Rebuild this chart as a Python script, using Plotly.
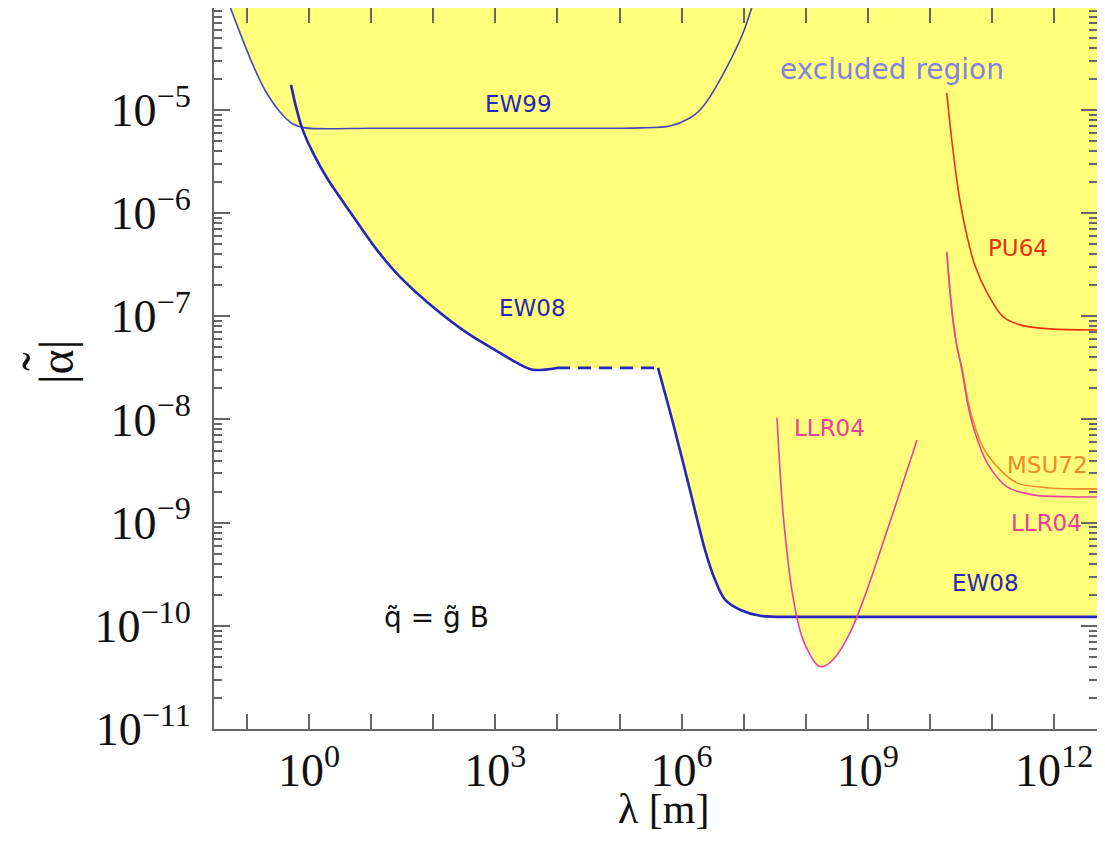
import numpy as np
import plotly.graph_objects as go

# ---------------- data ----------------
# EW99 (thin curve)
ew99_lambda = [0.0535, 0.0775, 0.125, 0.195, 0.341, 0.552, 0.863, 1e1, 1e2, 1e3, 1e4, 1e5,
               2.14e5, 6.50e5, 1.36e6, 1.98e6, 2.86e6, 5.38e6, 9.75e6, 1.36e7]
ew99_alpha = [1.0e-4, 5.57e-5, 2.73e-5, 1.56e-5, 9.57e-6, 7.31e-6, 6.70e-6, 6.65e-6, 6.65e-6, 6.65e-6,
              6.65e-6, 6.65e-6, 6.70e-6, 7.00e-6, 8.36e-6, 1.0e-5, 1.34e-5, 2.61e-5, 5.57e-5, 1.0e-4]

# EW08 (thick curve), short-range part
ew08a_lambda = [0.513, 0.618, 0.771, 1.16, 1.95, 4.57, 12.4, 29.2, 99.3, 350, 1190, 2230, 4050, 9860]
ew08a_alpha = [1.75e-5, 1.07e-5, 6.70e-6, 3.83e-6, 2.19e-6, 1.03e-6, 4.40e-7, 2.41e-7, 1.23e-7,
               6.90e-8, 4.42e-8, 3.53e-8, 3.03e-8, 3.16e-8]
# EW08 dashed bridge
ew08d_lambda = [9860, 4.17e5]
ew08d_alpha = [3.16e-8, 3.16e-8]
# EW08 long-range part
ew08b_lambda = [4.17e5, 7.26e5, 1.36e6, 2.38e6, 3.45e6, 5.0e6, 8.71e6, 1.83e7, 8.07e7, 1e13]
ew08b_alpha = [3.16e-8, 9.27e-9, 2.08e-9, 5.45e-10, 2.79e-10, 1.79e-10, 1.43e-10, 1.25e-10, 1.22e-10, 1.22e-10]

# LLR04 (V-shaped curve)
llrv_lambda = [3.44e7, 4.30e7, 6.22e7, 9.02e7, 1.51e8, 1.82e8, 2.74e8, 5.15e8, 9.68e8, 1.75e9, 3.29e9, 6.18e9]
llrv_alpha = [1.04e-8, 1.24e-9, 1.91e-10, 7.31e-11, 4.19e-11, 4.01e-11, 4.69e-11, 8.55e-11, 2.23e-10,
              6.37e-10, 1.99e-9, 6.34e-9]

# PU64
pu64_lambda = [1.86e10, 2.34e10, 3.02e10, 4.07e10, 5.25e10, 8.32e10, 1.51e11, 2.82e11, 8.51e11, 1e13]
pu64_alpha = [1.46e-5, 4.09e-6, 1.34e-6, 5.50e-7, 3.15e-7, 1.69e-7, 9.86e-8, 8.26e-8, 7.55e-8, 7.38e-8]

# MSU72
msu72_lambda = [1.86e10, 2.09e10, 2.34e10, 2.69e10, 3.31e10, 4.07e10, 4.90e10, 7.08e10, 1.35e11,
                2.51e11, 8.51e11, 1e13]
msu72_alpha = [4.21e-7, 1.80e-7, 9.23e-8, 5.28e-8, 3.03e-8, 1.55e-8, 9.91e-9, 5.42e-9, 3.25e-9,
               2.43e-9, 2.17e-9, 2.13e-9]

# LLR04 (long range)
llr_lambda = [1.86e10, 2.09e10, 2.34e10, 2.69e10, 3.31e10, 4.07e10, 5.25e10, 8.32e10, 1.74e11,
              4.57e11, 1.78e12, 1e13]
llr_alpha = [4.21e-7, 1.80e-7, 9.23e-8, 5.28e-8, 2.89e-8, 1.39e-8, 7.59e-9, 3.80e-9, 2.22e-9,
             1.86e-9, 1.78e-9, 1.78e-9]

# axis ticks
x_tick_exponents = list(range(-1, 13))
x_labelled = [0, 3, 6, 9, 12]
y_tick_exponents = list(range(-11, -4))

# ---------------- excluded-region envelope ----------------
grid = np.linspace(np.log10(ew99_lambda[0]), 12.9, 4000)
env = np.full_like(grid, np.inf)
for lam, al in [(ew99_lambda, ew99_alpha), (ew08a_lambda, ew08a_alpha), (ew08d_lambda, ew08d_alpha),
                (ew08b_lambda, ew08b_alpha), (llrv_lambda, llrv_alpha)]:
    lx = np.log10(lam)
    ly = np.log10(al)
    m = (grid >= lx.min()) & (grid <= lx.max())
    env[m] = np.minimum(env[m], np.interp(grid[m], lx, ly))
top = -3.8
poly_x = np.concatenate([grid, grid[::-1]])
poly_y = np.concatenate([env, np.full_like(grid, top)])

fig = go.Figure()
fig.add_trace(go.Scatter(x=10 ** poly_x, y=10 ** poly_y, fill="toself", fillcolor="#ffff7c",
                         line=dict(width=0), mode="lines", hoverinfo="skip", showlegend=False))

BLUE_THIN = "#4646b4"
BLUE = "#2626b8"
MAG = "#e8409c"
RED = "#e8320f"
ORANGE = "#f08a28"


def line(x, y, color, width, dash="solid", shape="spline"):
    fig.add_trace(go.Scatter(x=x, y=y, mode="lines",
                             line=dict(color=color, width=width, dash=dash, shape=shape, smoothing=0.9),
                             showlegend=False, hoverinfo="skip"))


line(ew99_lambda, ew99_alpha, BLUE_THIN, 1.6)
line(ew08a_lambda, ew08a_alpha, BLUE, 2.6)
line(ew08d_lambda, ew08d_alpha, BLUE, 2.6, dash="13px,8px", shape="linear")
line(ew08b_lambda, ew08b_alpha, BLUE, 2.6)
line(llrv_lambda, llrv_alpha, MAG, 1.6)
line(pu64_lambda, pu64_alpha, RED, 1.6)
line(msu72_lambda, msu72_alpha, ORANGE, 1.6)
line(llr_lambda, llr_alpha, MAG, 1.6)

SANS = "DejaVu Sans"


def label(text, lam, al, color, size=23):
    fig.add_annotation(x=np.log10(lam), y=np.log10(al), text=text, showarrow=False,
                       font=dict(family=SANS, size=size, color=color), xanchor="center", yanchor="middle")


label("EW99", 2320, 1.14e-5, BLUE)
label("EW08", 3900, 1.20e-7, BLUE)
label("excluded region", 2.44e9, 2.44e-5, "#8282e2", size=28)
label("PU64", 2.61e11, 4.6e-7, RED)
label("LLR04", 2.45e8, 8.3e-9, MAG)
label("MSU72", 7.66e11, 3.63e-9, ORANGE)
label("LLR04", 7.38e11, 9.95e-10, MAG)
label("EW08", 7.69e10, 2.61e-10, BLUE)
label("q\u0303 = g\u0303 B", 115, 1.2e-10, "#111111", size=28)

AX = "#666666"
SERIF = "Liberation Serif"
TXT = "#111111"

# axis titles as paper-positioned texts
fig.add_annotation(xref="paper", yref="paper", x=0.5096, y=-0.1455, text="λ [m]", showarrow=False,
                   font=dict(family=SERIF, size=42, color=TXT), xanchor="center", yanchor="bottom")
fig.add_annotation(xref="paper", yref="paper", x=-0.1789, y=0.509, text="|α|", showarrow=False,
                   textangle=-90, font=dict(family=SERIF, size=48, color=TXT),
                   xanchor="center", yanchor="middle")
fig.add_annotation(xref="paper", yref="paper", x=-0.1948, y=0.5104, text="\u02dc", showarrow=False,
                   textangle=-90, font=dict(family=SERIF, size=56, color=TXT),
                   xanchor="center", yanchor="middle")

minor_y = [m * 10.0 ** e for e in range(-11, -4) for m in range(2, 10)]

fig.update_layout(
    width=1089, height=827,
    margin=dict(l=206, r=0, t=0, b=106),
    paper_bgcolor="white", plot_bgcolor="white",
    xaxis=dict(
        type="log", range=[-1.530, 12.689], automargin=False,
        tickmode="array",
        tickvals=[10.0 ** e for e in x_tick_exponents],
        ticktext=[f"10<sup>{e}</sup>" if e in x_labelled else "" for e in x_tick_exponents],
        ticks="inside", ticklen=15, tickwidth=2, tickcolor=AX,
        showline=True, linecolor=AX, linewidth=2, mirror="ticks",
        showgrid=False, zeroline=False,
        tickfont=dict(family=SERIF, size=46, color=TXT),
    ),
    yaxis=dict(
        type="log", range=[-11, -4.012], automargin=False,
        tickmode="array",
        tickvals=[10.0 ** e for e in y_tick_exponents],
        ticktext=[f"10<sup>\u2212{-e}</sup>" for e in y_tick_exponents],
        ticks="inside", ticklen=16, tickwidth=2, tickcolor=AX,
        ticklabelstandoff=12,
        minor=dict(tickmode="array", tickvals=minor_y, ticks="inside", ticklen=8, tickwidth=1.5,
                   tickcolor=AX, showgrid=False),
        showline=True, linecolor=AX, linewidth=2, mirror="ticks",
        showgrid=False, zeroline=False,
        tickfont=dict(family=SERIF, size=46, color=TXT),
    ),
)

fig.write_html("out.html")
